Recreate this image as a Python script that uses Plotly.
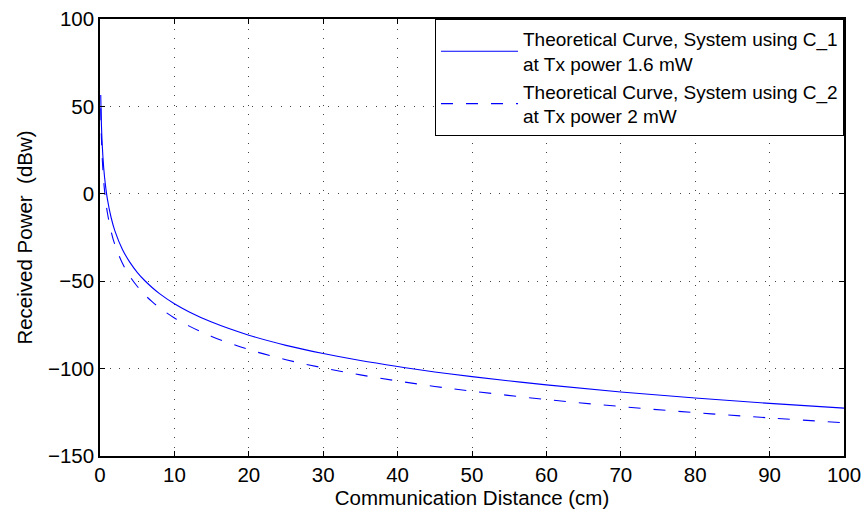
import plotly.graph_objects as go

# Communication distance (cm)
distance = [0.1, 0.2, 0.3, 0.5, 0.7, 1, 1.5, 2, 3, 4, 5, 6, 7, 8, 10, 12, 15,
            20, 25, 30, 35, 40, 45, 50, 60, 70, 80, 90, 100]

# Received power (dBw)
power_c1 = [56.5, 38.5, 28.0, 14.8, 6.1, -3.2, -13.7, -21.2, -31.7, -39.1, -44.9,
            -49.6, -53.6, -57.1, -62.9, -67.6, -73.4, -80.9, -86.7, -91.4, -95.4,
            -98.8, -101.9, -104.6, -109.3, -113.4, -116.8, -119.9, -122.6]
power_c2 = [49.0, 30.9, 20.4, 7.1, -1.7, -11.0, -21.6, -29.1, -39.6, -47.1, -52.9,
            -57.7, -61.7, -65.2, -71.0, -75.7, -81.6, -89.1, -94.9, -99.6, -103.6,
            -107.1, -110.2, -112.9, -117.7, -121.7, -125.2, -128.2, -131.0]

names = ["Theoretical Curve, System using C_1<br>at Tx power 1.6 mW",
         "Theoretical Curve, System using C_2<br>at Tx power 2 mW"]

x_ticks = [0, 10, 20, 30, 40, 50, 60, 70, 80, 90, 100]
y_ticks = [-150, -100, -50, 0, 50, 100]
y_tick_text = ["\u2212150", "\u2212100", "\u221250", "0", "50", "100"]

FONT = "Liberation Sans, Arial, sans-serif"
AX_SIZE = 20.5

fig = go.Figure()
fig.add_trace(go.Scatter(x=distance, y=power_c1, mode="lines", name=names[0],
                         line=dict(color="#0000ff", width=1.1, shape="spline")))
fig.add_trace(go.Scatter(x=distance, y=power_c2, mode="lines", name=names[1],
                         line=dict(color="#0000ff", width=1.1, shape="spline",
                                   dash="12px,13px")))

axis_common = dict(
    showline=True, linecolor="black", linewidth=1.5, mirror="ticks",
    ticks="inside", ticklen=5, tickcolor="black", tickwidth=1,
    showgrid=True, gridcolor="#444444", gridwidth=1, griddash="1px,8.5px",
    zeroline=False, tickfont=dict(family=FONT, size=AX_SIZE, color="black"),
    automargin=False,
)

fig.update_xaxes(range=[0, 100], tickvals=x_ticks, **axis_common,
                 title=dict(text="Communication Distance (cm)", standoff=2,
                            font=dict(family=FONT, size=AX_SIZE, color="black")))
fig.update_yaxes(range=[-150, 100], tickvals=y_ticks, ticktext=y_tick_text,
                 **axis_common,
                 title=dict(text="Received Power \u00a0(dBw)", standoff=10,
                            font=dict(family=FONT, size=AX_SIZE, color="black")))

fig.update_layout(
    width=865, height=513,
    margin=dict(l=100, r=21, t=19, b=57),
    paper_bgcolor="white", plot_bgcolor="white",
    font=dict(family=FONT, size=AX_SIZE, color="black"),
    showlegend=True,
    legend=dict(x=1, y=1, xanchor="right", yanchor="top",
                bgcolor="white", bordercolor="black", borderwidth=1,
                font=dict(family=FONT, size=19, color="black"),
                itemwidth=77, tracegroupgap=0),
)

fig.write_html("out.html")
